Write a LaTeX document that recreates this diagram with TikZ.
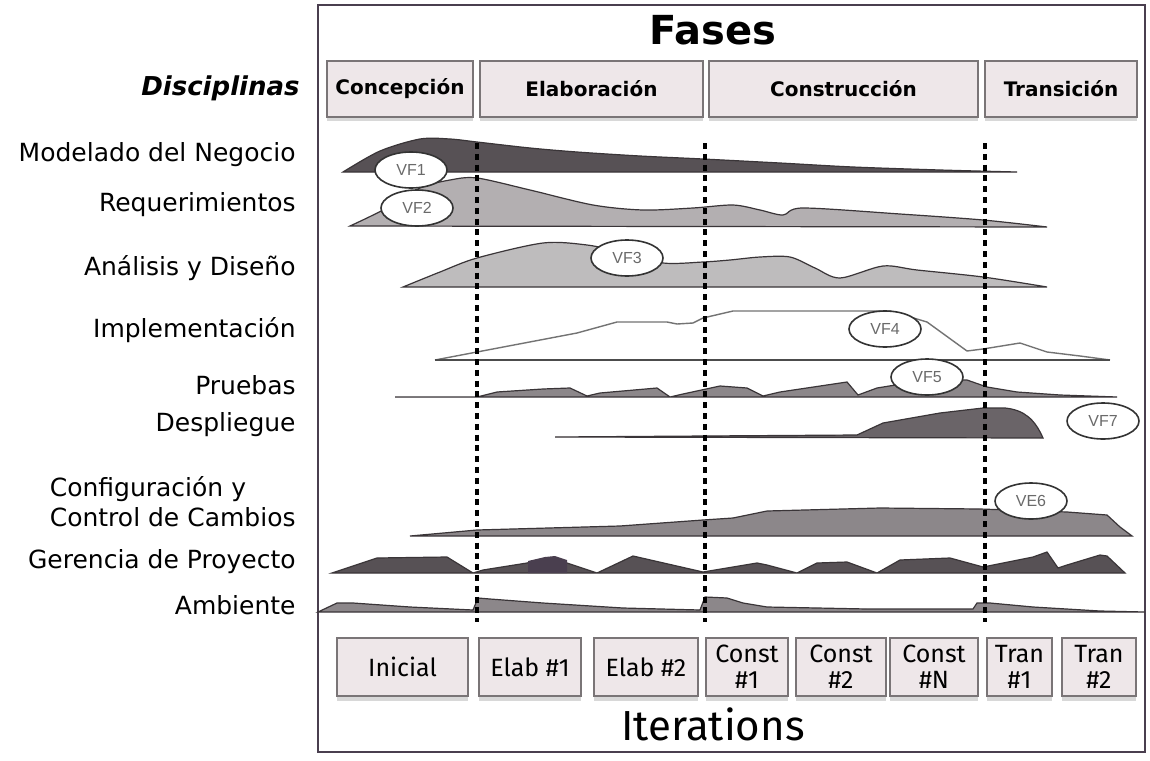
\documentclass[tikz,border=0pt]{standalone}
\usepackage{fontspec}
\setmainfont{DejaVu Sans}
\newfontfamily\iterfont{Fira Sans}
\newfontfamily\vffont{Liberation Sans}
\usepackage{tikz}
\usetikzlibrary{positioning,shapes.geometric,shadows}

\definecolor{framecol}{HTML}{4A3F4F}
\definecolor{boxfill}{HTML}{EEE7E9}
\definecolor{boxline}{HTML}{7A7577}
\definecolor{humpline}{HTML}{3A3538}
\definecolor{darkhump}{HTML}{575155}
\definecolor{deephump}{HTML}{6A6468}
\definecolor{midhump}{HTML}{8C878A}
\definecolor{lighthump}{HTML}{B3AFB1}
\definecolor{paleh}{HTML}{BEBCBD}
\definecolor{blobcol}{HTML}{4A3F4F}
\definecolor{vftext}{HTML}{6A6A6A}

\begin{document}
\begin{tikzpicture}[
    x=0.5pt, y=-0.5pt,
    phase/.style={draw=boxline, fill=boxfill, line width=0.8pt, minimum height=28pt, inner sep=1pt,
        font=\fontsize{10}{12}\selectfont\bfseries,
        drop shadow={shadow xshift=0pt, shadow yshift=-2pt, fill=black!30}},
    iter/.style={draw=boxline, fill=boxfill, line width=0.8pt, minimum height=29pt, inner sep=1pt,
        align=center, font=\iterfont\fontsize{12.5}{13}\selectfont,
        drop shadow={shadow xshift=0pt, shadow yshift=-2.5pt, fill=black!30}},
    disc/.style={anchor=east, inner sep=0pt, font=\fontsize{12.5}{15}\selectfont},
    vf/.style={draw=black!80, fill=white, ellipse, line width=0.8pt, inner sep=0pt,
        minimum width=36pt, minimum height=18pt, text=vftext, font=\vffont\fontsize{8}{9}\selectfont},
    hump/.style={draw=humpline, line width=0.6pt},
    divider/.style={line width=2pt, dash pattern=on 3pt off 2.4pt}
]
\useasboundingbox (0,0) rectangle (1150,760);
\fill[white] (0,0) rectangle (1150,760);

% frame and titles
\draw[framecol, line width=1.2pt] (318,5) rectangle (1145,752);
\node[font=\fontsize{20}{24}\selectfont\bfseries] (fases) at (713,30) {Fases};
\node[font=\iterfont\fontsize{21}{24}\selectfont] (iterations) at (713,724) {Iterations};

% phases
\node[phase, minimum width=73pt] (concepcion) at (400,89) {Concepción};
\node[phase, minimum width=111.5pt] (elaboracion) at (591.5,89) {Elaboración};
\node[phase, minimum width=134.5pt] (construccion) at (843.5,89) {Construcción};
\node[phase, minimum width=76pt] (transicion) at (1061,89) {Transición};

% iterations
\node[iter, minimum width=65.5pt] (inicial) at (402.5,667) {Inicial};
\node[iter, minimum width=51pt] (elab1) at (530,667) {Elab \#1};
\node[iter, minimum width=52pt] (elab2) at (646,667) {Elab \#2};
\node[iter, minimum width=41pt] (const1) at (747,667) {Const\\\#1};
\node[iter, minimum width=45pt] (const2) at (841,667) {Const\\\#2};
\node[iter, minimum width=44pt] (constn) at (934,667) {Const\\\#N};
\node[iter, minimum width=32.5pt] (tran1) at (1019.5,667) {Tran\\\#1};
\node[iter, minimum width=37pt] (tran2) at (1099,667) {Tran\\\#2};

% disciplines
\node[disc, font=\fontsize{13}{15}\selectfont\bfseries\itshape] (disciplinas) at (300,88) {Disciplinas};
\node[disc] (modelado) at (296,155) {Modelado del Negocio};
\node[disc] (requerimientos) at (296,205) {Requerimientos};
\node[disc] (analisis) at (296,268) {Análisis y Diseño};
\node[disc] (implementacion) at (296,330) {Implementación};
\node[disc] (pruebas) at (296,385) {Pruebas};
\node[disc] (despliegue) at (296,425) {Despliegue};
\node[disc, align=left] (configuracion) at (296,502) {Configuración y\\Control de Cambios};
\node[disc] (gerencia) at (296,562) {Gerencia de Proyecto};
\node[disc] (ambiente) at (296,605) {Ambiente};

% workload humps
\filldraw[hump, fill=darkhump] plot[smooth, tension=0.5] coordinates {(343,172) (380,151) (420,139) (450,139) (477,142) (530,148) (577,152) (640,156) (703,159) (780,163) (853,167) (940,170) (1017,172)} -- cycle;
\filldraw[hump, fill=lighthump] plot[smooth, tension=0.5] coordinates {(350,226) (383,210) (420,188) (450,180) (477,178) (530,190) (593,205) (643,210) (693,208) (733,205) (760,210) (783,215) (803,208) (900,214) (983,220) (1047,227)} -- cycle;
\filldraw[hump, fill=paleh] plot[smooth, tension=0.5] coordinates {(403,287) (440,272) (477,258) (543,243) (587,245) (620,252) (663,263) (703,262) (730,260) (760,257) (790,257) (815,268) (840,278) (883,266) (917,270) (983,277) (1047,287)} -- cycle;
\draw[black!55, line width=0.7pt] (435,360) -- (477,352) -- (577,333) -- (617,322) -- (667,322) -- (677,324) -- (693,323) -- (703,318) -- (733,311) -- (890,311) -- (927,322) -- (967,351) -- (983,349) -- (1020,343) -- (1047,352) -- (1080,356) -- (1110,360);
\draw[black!70, line width=0.7pt] (435,360) -- (1110,360);
\filldraw[hump, fill=midhump] (395,397) -- (477,397) -- (497,392) -- (543,389) -- (570,388) -- (587,396) -- (600,393) -- (657,388) -- (670,397) -- (683,394) -- (720,386) -- (747,388) -- (763,396) -- (780,392) -- (847,382) -- (858,395) -- (877,388) -- (920,381) -- (967,380) -- (987,387) -- (1017,392) -- (1060,395) -- (1117,397) -- cycle;
\filldraw[hump, fill=deephump] (555,437) -- (857,435) -- (883,423) -- (940,413) -- (983,408) -- (1005,408) .. controls (1025,410) and (1035,420) .. (1043,438) -- cycle;
\filldraw[hump, fill=midhump] (410,536) -- (477,530) -- (620,526) -- (703,520) -- (733,518) -- (767,511) -- (880,508) -- (980,509) -- (1067,512) -- (1107,515) -- (1120,527) -- (1132,536) -- cycle;
\filldraw[hump, fill=darkhump] (332,573) -- (377,558) -- (447,557) -- (473,573) -- (483,570) -- (527,563) -- (547,559) -- (567,563) -- (597,573) -- (633,556) -- (703,572) -- (757,563) -- (767,565) -- (797,573) -- (817,563) -- (847,562) -- (877,573) -- (900,560) -- (950,558) -- (983,567) -- (1033,557) -- (1047,552) -- (1058,568) -- (1067,565) -- (1100,555) -- (1107,556) -- (1125,573) -- cycle;
\fill[blobcol] (528,573) -- (528,561) -- (545,557) -- (555,556) -- (567,560) -- (567,573) -- cycle;
\filldraw[hump, fill=midhump] (318,612) -- (337,603) -- (353,603) -- (410,607) -- (473,610) -- (478,598) -- (490,599) -- (543,603) -- (623,608) -- (700,610) -- (705,597) -- (727,598) -- (743,603) -- (767,607) -- (867,609) -- (973,609) -- (977,603) -- (990,603) -- (1033,607) -- (1100,611) -- (1145,612) -- cycle;

% phase dividers
\foreach \x in {477,705,985}
  \draw[divider] (\x,143) -- (\x,622);

% milestones
\node[vf] (vf1) at (411,170) {VF1};
\node[vf] (vf2) at (417,208) {VF2};
\node[vf] (vf3) at (627,258) {VF3};
\node[vf] (vf4) at (885,329) {VF4};
\node[vf] (vf5) at (927,377) {VF5};
\node[vf] (vf7) at (1103,421) {VF7};
\node[vf] (ve6) at (1031,501) {VE6};

\end{tikzpicture}
\end{document}
